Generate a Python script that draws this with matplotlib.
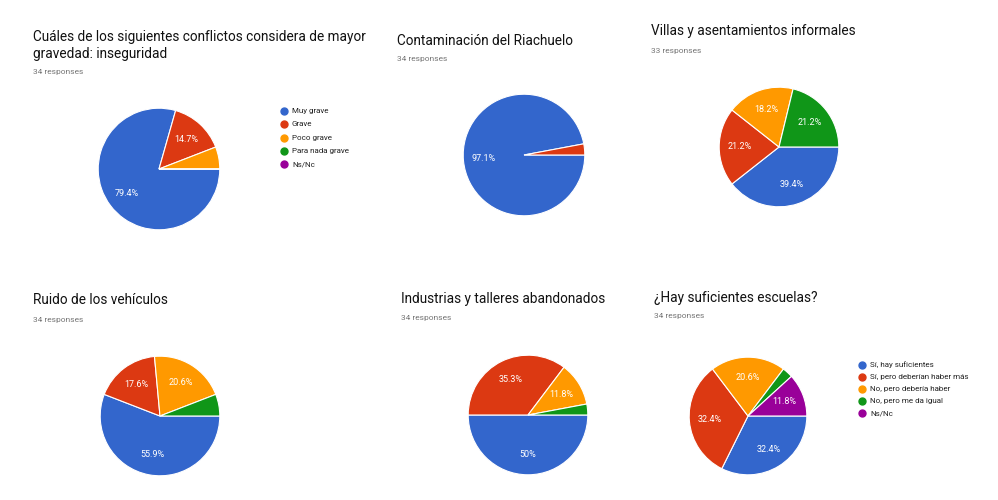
import matplotlib
matplotlib.use('Agg')
import matplotlib.pyplot as plt
from matplotlib.lines import Line2D

plt.rcParams['font.family'] = ['Roboto', 'DejaVu Sans']

W, H = 998, 500

colores = ['#3366cc', '#dc3912', '#ff9900', '#109618', '#990099']

titulos = [
    ['Cuáles de los siguientes conflictos considera de mayor', 'gravedad: inseguridad'],
    ['Contaminación del Riachuelo'],
    ['Villas y asentamientos informales'],
    ['Ruido de los vehículos'],
    ['Industrias y talleres abandonados'],
    ['¿Hay suficientes escuelas?'],
]
respuestas = [34, 34, 33, 34, 34, 34]

inseguridad = [27, 5, 2, 0, 0]
riachuelo = [33, 1]
villas = [13, 7, 6, 7]
ruido = [19, 6, 7, 2]
industrias = [17, 12, 4, 1]
escuelas = [11, 11, 7, 1, 4]

leyenda_gravedad = ['Muy grave', 'Grave', 'Poco grave', 'Para nada grave', 'Ns/Nc']
leyenda_escuelas = ['Sí, hay suficientes', 'Sí, pero deberían haber más',
                    'No, pero debería haber', 'No, pero me da igual', 'Ns/Nc']

datos = [inseguridad, riachuelo, villas, ruido, industrias, escuelas]

# posiciones en pixeles: (titulo x, titulo y, respuestas y, centro x, centro y, radio)
layout = [
    (33, 37, 72, 159, 169, 62),
    (397, 41, 59, 524, 155, 62),
    (651, 31, 51, 779, 147, 61),
    (33, 300, 320, 160, 416, 61),
    (401, 299, 318, 528, 415, 61),
    (654, 298, 316, 748, 416, 60),
]


def fx(x):
    return x / W


def fy(y):
    return 1 - y / H


def etiqueta(p):
    if p < 8:
        return ''
    s = '%.1f' % p
    if s.endswith('.0'):
        s = s[:-2]
    return s + '%'


fig = plt.figure(figsize=(W / 100, H / 100), dpi=100)
fig.patch.set_facecolor('white')

for i in range(len(datos)):
    tx, ty, ry, cx, cy, r = layout[i]
    for j, linea in enumerate(titulos[i]):
        fig.text(fx(tx), fy(ty + 17 * j), linea, fontsize=9.8, color='#111111',
                 va='center')
    fig.text(fx(tx), fy(ry), '%d responses' % respuestas[i], fontsize=6,
             color='#757575', va='center')

    ax = fig.add_axes([fx(cx - r), fy(cy + r), 2 * r / W, 2 * r / H])
    vals = datos[i]
    textos = ax.pie(vals, colors=colores[:len(vals)], startangle=0, counterclock=False,
                    autopct=etiqueta, pctdistance=0.66,
                    wedgeprops=dict(edgecolor='white', linewidth=0.8))[2]
    for t in textos:
        t.set_color('white')
        t.set_fontsize(6.5)
    ax.set_xlim(-1.02, 1.02)
    ax.set_ylim(-1.02, 1.02)
    ax.axis('off')


# leyendas
def leyenda(nombres, x, y0, paso):
    for k, nombre in enumerate(nombres):
        y = y0 + k * paso
        fig.add_artist(Line2D([fx(x)], [fy(y)], marker='o', markersize=5,
                              color=colores[k], transform=fig.transFigure))
        fig.text(fx(x + 8), fy(y), nombre, fontsize=5.8, color='#222222', va='center')


leyenda(leyenda_gravedad, 284, 111, 13.3)
leyenda(leyenda_escuelas, 862, 365, 12)

fig.savefig('out.png', dpi=100)
